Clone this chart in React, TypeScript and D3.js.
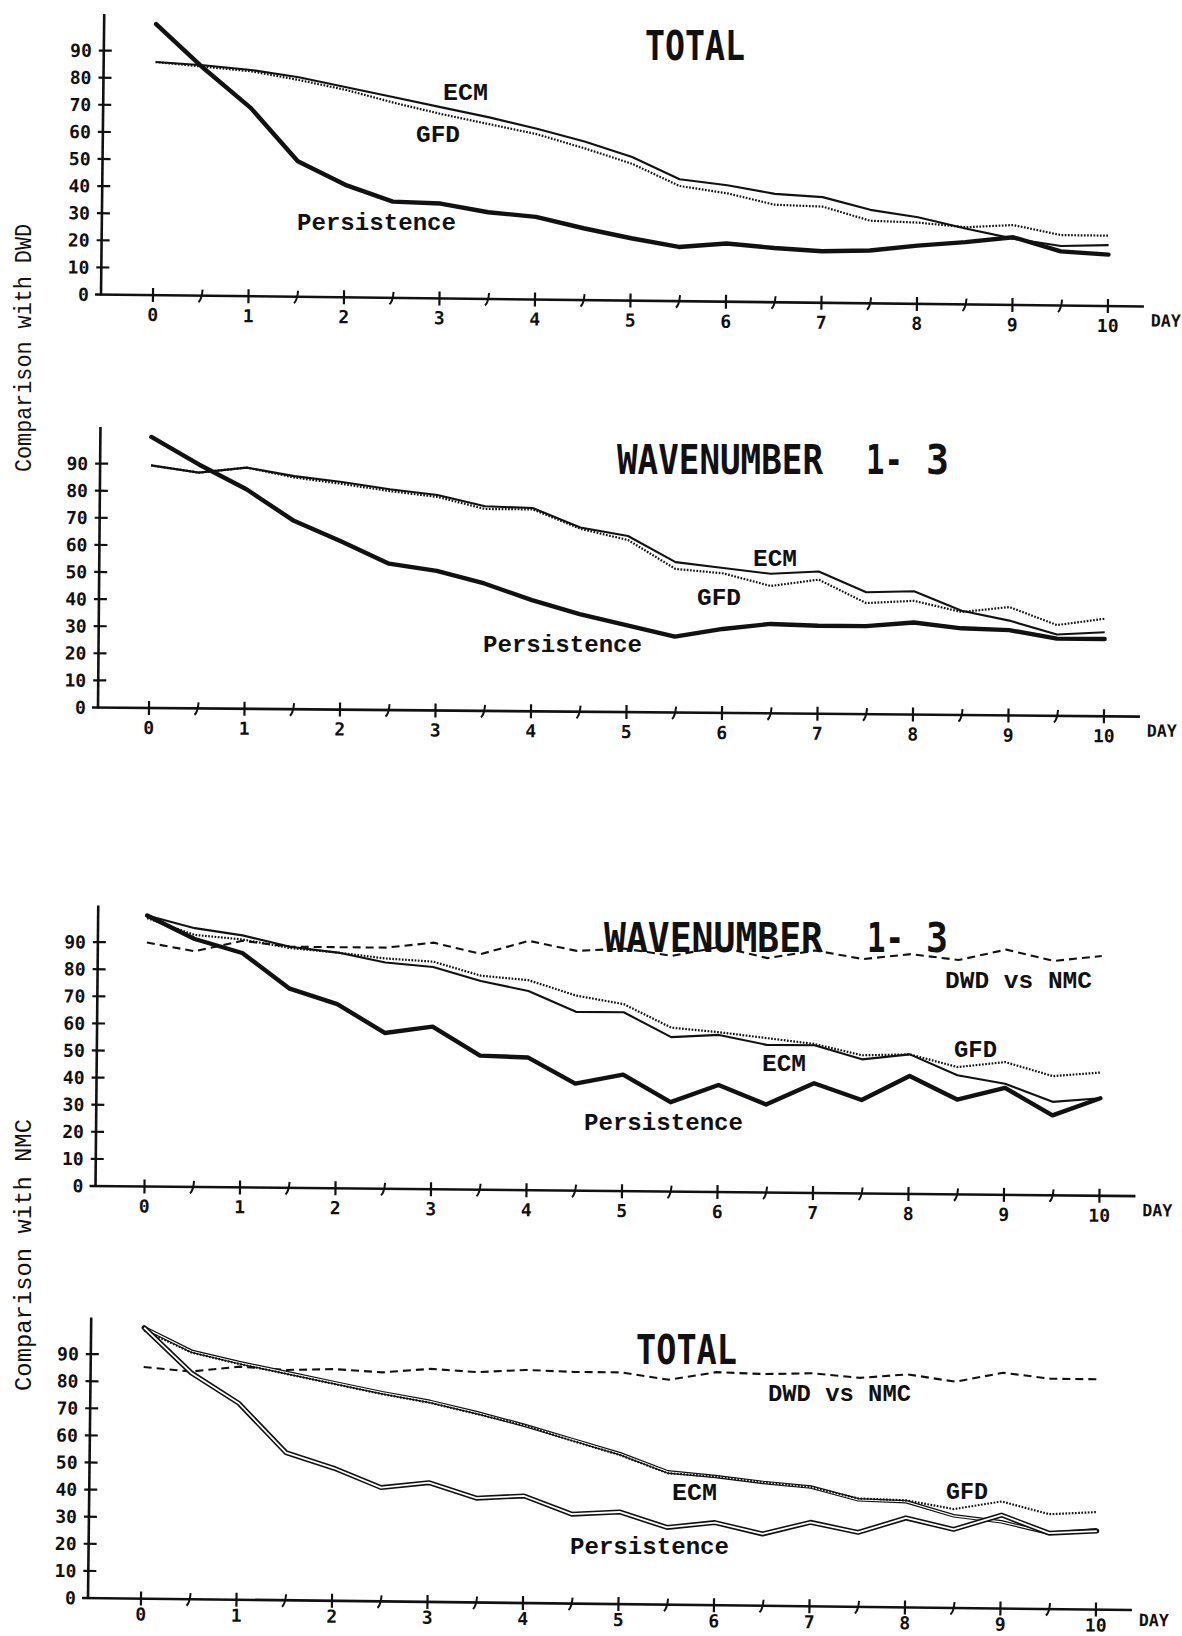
import React from 'react';
import * as d3 from 'd3';

// Forecast day at which every series is sampled (half-day steps)
const DAYS = [0, 0.5, 1, 1.5, 2, 2.5, 3, 3.5, 4, 4.5, 5, 5.5, 6, 6.5, 7, 7.5, 8, 8.5, 9, 9.5, 10];
const DAY_TICKS = [0, 1, 2, 3, 4, 5, 6, 7, 8, 9, 10];
const HALF_DAY_TICKS = [0.5, 1.5, 2.5, 3.5, 4.5, 5.5, 6.5, 7.5, 8.5, 9.5];
const VALUE_TICKS = [0, 10, 20, 30, 40, 50, 60, 70, 80, 90];

// Comparison with DWD, TOTAL
const dwdTotalEcm = [86, 85, 83.5, 81, 77.5, 74, 70.5, 67, 63, 58.5, 53, 45, 43, 40, 39, 34.5, 32, 28, 24.5, 22, 22.5];
const dwdTotalGfd = [86, 84.5, 83, 80, 76.5, 72, 68, 64.5, 61, 56, 50.5, 42.5, 40, 36, 35.5, 30.5, 30, 28.5, 29.5, 26, 26];
const dwdTotalPersistence = [100, 84, 69.5, 50, 41.5, 35.5, 35, 32, 30.5, 26.5, 23, 20, 21.5, 20, 19, 19.5, 21.5, 23, 25, 20, 19];

// Comparison with DWD, WAVENUMBER 1-3
const dwdWaveEcm = [89.5, 87, 89, 86, 84, 81.5, 79.5, 75.5, 75, 68, 65, 55.5, 53.5, 51.5, 52.5, 45, 45.5, 38.5, 35, 30, 31];
const dwdWaveGfd = [89.5, 87, 89, 85.5, 83.3, 80.8, 78.8, 74.5, 74.5, 67.5, 63.5, 53, 51.5, 47, 49.5, 41, 42, 38, 40, 33.5, 36];
const dwdWavePersistence = [100, 90, 81, 69.5, 62, 54, 51.5, 47, 41, 36, 32, 28, 31, 33, 32.5, 32.5, 34, 32, 31.5, 28.5, 28.5];

// Comparison with NMC, WAVENUMBER 1-3
const nmcWaveDwd = [90, 87, 91, 89, 89, 89, 91, 87, 92, 88.5, 89.5, 87, 90.5, 86.5, 89.5, 86.5, 88.5, 86.5, 90.5, 86.5, 88.5];
const nmcWaveEcm = [100, 95.5, 93, 89, 87, 83.5, 82, 77, 73.5, 66, 66, 57, 58, 54.5, 54.5, 49.5, 51.5, 44, 41, 34.5, 36];
const nmcWaveGfd = [99, 93, 91.5, 88.5, 87, 85, 84, 79, 77.5, 72, 69, 60.5, 59, 57, 55, 51, 51.5, 47, 49, 44, 45.5];
const nmcWavePersistence = [100, 91.5, 86.5, 73.5, 68, 57.5, 60, 49.5, 49, 39.5, 43, 33, 39.5, 32.5, 40.5, 34.5, 43.5, 35, 39.5, 29.5, 36];

// Comparison with NMC, TOTAL
const nmcTotalDwd = [85.5, 84, 86, 85, 85.5, 84.5, 86, 85, 86, 85.5, 85.5, 83, 86, 85.5, 86, 84.5, 86, 83.5, 87, 85, 85];
const nmcTotalEcm = [100, 91.5, 87.5, 84, 80.5, 77, 74, 70, 65.5, 60.5, 55.5, 49, 47.5, 45.5, 44, 39.5, 39, 34, 32, 28, 29.5];
const nmcTotalGfd = [99, 91, 87, 83.5, 80, 76.5, 73.5, 69.5, 65.5, 60, 55, 48.5, 47.5, 45.5, 44, 40, 39.5, 36.5, 39.5, 35, 36];
const nmcTotalPersistence = [100, 83.5, 72.5, 54.5, 49, 42, 44, 38.5, 39.5, 33, 34, 28.5, 30.5, 26.5, 31, 27.5, 33, 29, 34.5, 28, 29];

type Style = 'solid' | 'dotted' | 'thick' | 'dashed' | 'hollow' | 'hollowThick';
type Series = { values: number[]; style: Style };
type Label = { text: string; x: number; y: number; len: number };
type TitlePart = { text: string; x: number; len: number };
type PanelCfg = {
  ox: number; oy: number; angle: number; dayOffset: number; dayLabelY: number;
  titleY: number; title: TitlePart[];
  series: Series[]; labels: Label[];
};

const X_SPAN = 955; // ten days
const Y_SPAN = 271; // 100 units
const INK = '#111';

const PANELS: PanelCfg[] = [
  {
    ox: 101, oy: 294.5, angle: 0.66, dayOffset: 52, dayLabelY: 26,
    titleY: 60, title: [{ text: 'TOTAL', x: 645, len: 100 }],
    series: [
      { values: dwdTotalGfd, style: 'dotted' },
      { values: dwdTotalEcm, style: 'solid' },
      { values: dwdTotalPersistence, style: 'thick' },
    ],
    labels: [
      { text: 'ECM', x: 443, y: 100, len: 45 },
      { text: 'GFD', x: 416, y: 142, len: 44 },
      { text: 'Persistence', x: 297, y: 230, len: 159 },
    ],
  },
  {
    ox: 98, oy: 707.5, angle: 0.5, dayOffset: 51, dayLabelY: 26,
    titleY: 474,
    title: [
      { text: 'WAVENUMBER', x: 617, len: 206 },
      { text: '1-', x: 866, len: 37 },
      { text: '3', x: 926, len: 23 },
    ],
    series: [
      { values: dwdWaveGfd, style: 'dotted' },
      { values: dwdWaveEcm, style: 'solid' },
      { values: dwdWavePersistence, style: 'thick' },
    ],
    labels: [
      { text: 'ECM', x: 753, y: 566, len: 44 },
      { text: 'GFD', x: 697, y: 605, len: 44 },
      { text: 'Persistence', x: 483, y: 652, len: 159 },
    ],
  },
  {
    ox: 95.5, oy: 1186, angle: 0.56, dayOffset: 49, dayLabelY: 26,
    titleY: 952,
    title: [
      { text: 'WAVENUMBER', x: 604, len: 219 },
      { text: '1-', x: 867, len: 37 },
      { text: '3', x: 926, len: 22 },
    ],
    series: [
      { values: nmcWaveDwd, style: 'dashed' },
      { values: nmcWaveGfd, style: 'dotted' },
      { values: nmcWaveEcm, style: 'solid' },
      { values: nmcWavePersistence, style: 'thick' },
    ],
    labels: [
      { text: 'DWD vs NMC', x: 945, y: 988, len: 147 },
      { text: 'GFD', x: 954, y: 1057, len: 43 },
      { text: 'ECM', x: 762, y: 1071, len: 44 },
      { text: 'Persistence', x: 584, y: 1130, len: 159 },
    ],
  },
  {
    ox: 88, oy: 1598, angle: 0.66, dayOffset: 53, dayLabelY: 22,
    titleY: 1364, title: [{ text: 'TOTAL', x: 636, len: 101 }],
    series: [
      { values: nmcTotalDwd, style: 'dashed' },
      { values: nmcTotalEcm, style: 'hollow' },
      { values: nmcTotalGfd, style: 'dotted' },
      { values: nmcTotalPersistence, style: 'hollowThick' },
    ],
    labels: [
      { text: 'DWD vs NMC', x: 768, y: 1401, len: 143 },
      { text: 'ECM', x: 672, y: 1500, len: 45 },
      { text: 'GFD', x: 946, y: 1499, len: 42 },
      { text: 'Persistence', x: 570, y: 1554, len: 159 },
    ],
  },
];

const MONO = '"Liberation Mono", "DejaVu Sans Mono", monospace';
const PLOT = '"DejaVu Sans Mono", monospace';

function SeriesPath({ d, style }: { d: string; style: Style }) {
  switch (style) {
    case 'solid':
      return <path d={d} fill="none" stroke={INK} strokeWidth={2.1} strokeLinejoin="round" />;
    case 'dotted':
      return <path d={d} fill="none" stroke={INK} strokeWidth={2.2} strokeDasharray="1.7 1.5" />;
    case 'thick':
      return <path d={d} fill="none" stroke={INK} strokeWidth={4.4} strokeLinejoin="round" strokeLinecap="round" />;
    case 'dashed':
      return <path d={d} fill="none" stroke={INK} strokeWidth={2.1} strokeDasharray="8 5" />;
    case 'hollow':
      return (
        <g>
          <path d={d} fill="none" stroke={INK} strokeWidth={3.6} strokeLinejoin="round" />
          <path d={d} fill="none" stroke="#fff" strokeWidth={1.2} strokeLinejoin="round" />
        </g>
      );
    case 'hollowThick':
      return (
        <g>
          <path d={d} fill="none" stroke={INK} strokeWidth={5} strokeLinejoin="round" strokeLinecap="round" />
          <path d={d} fill="none" stroke="#fff" strokeWidth={1.8} strokeLinejoin="round" />
        </g>
      );
  }
}

function Panel({ cfg }: { cfg: PanelCfg }) {
  const x = d3.scaleLinear().domain([0, 10]).range([cfg.dayOffset, cfg.dayOffset + X_SPAN]);
  const y = d3.scaleLinear().domain([0, 100]).range([0, -Y_SPAN]);
  const line = d3
    .line<number>()
    .x((_, i) => x(DAYS[i]))
    .y((v) => y(v));
  const axisEnd = x(10) + 36;

  return (
    <g>
      <g transform={`translate(${cfg.ox},${cfg.oy}) rotate(${cfg.angle})`}>
        {/* axes */}
        <line x1={-6} y1={0} x2={axisEnd} y2={0} stroke={INK} strokeWidth={2.6} />
        <line x1={0} y1={1} x2={0} y2={y(103.5)} stroke={INK} strokeWidth={2.6} />
        {VALUE_TICKS.filter((v) => v > 0).map((v) => (
          <line key={'yt' + v} x1={-5} x2={8} y1={y(v)} y2={y(v)} stroke={INK} strokeWidth={2.2} />
        ))}
        {VALUE_TICKS.map((v) => (
          <text
            key={'yl' + v}
            x={-12}
            y={y(v)}
            dy="0.36em"
            textAnchor="end"
            fontFamily={PLOT}
            fontWeight="bold"
            fontSize={18}
            fill={INK}
          >
            {v}
          </text>
        ))}
        {DAY_TICKS.map((d) => (
          <line key={'xt' + d} x1={x(d)} x2={x(d)} y1={-7} y2={7} stroke={INK} strokeWidth={2.2} />
        ))}
        {HALF_DAY_TICKS.map((d) => (
          <path
            key={'xh' + d}
            d={`M${x(d) + 1.8},-6 Q${x(d) + 1},4 ${x(d) - 2.2},6.5`}
            fill="none"
            stroke={INK}
            strokeWidth={2}
          />
        ))}
        {DAY_TICKS.map((d) => (
          <text
            key={'xl' + d}
            x={x(d)}
            y={cfg.dayLabelY}
            textAnchor="middle"
            fontFamily={PLOT}
            fontWeight="bold"
            fontSize={18}
            fill={INK}
          >
            {d}
          </text>
        ))}
        <text
          x={x(10) + 43}
          y={cfg.dayLabelY - 6}
          fontFamily={PLOT}
          fontWeight="bold"
          fontSize={17}
          textLength={30}
          lengthAdjust="spacingAndGlyphs"
          fill={INK}
        >
          DAY
        </text>
        {/* curves */}
        {cfg.series.map((s, i) => (
          <SeriesPath key={'s' + i} d={line(s.values) || ''} style={s.style} />
        ))}
      </g>
      {/* panel title */}
      {cfg.title.map((t, i) => (
        <text
          key={'t' + i}
          x={t.x}
          y={cfg.titleY}
          fontFamily={PLOT}
          fontWeight="bold"
          fontSize={41}
          textLength={t.len}
          lengthAdjust="spacingAndGlyphs"
          fill={INK}
        >
          {t.text}
        </text>
      ))}
      {/* curve names */}
      {cfg.labels.map((l, i) => (
        <text
          key={'l' + i}
          x={l.x}
          y={l.y}
          fontFamily={MONO}
          fontWeight="bold"
          fontSize={24}
          textLength={l.len}
          lengthAdjust="spacingAndGlyphs"
          fill={INK}
        >
          {l.text}
        </text>
      ))}
    </g>
  );
}

export default function App() {
  return (
    <div style={{ position: 'absolute', left: 0, top: 0, background: '#fff' }}>
      <svg width={1182} height={1636} viewBox="0 0 1182 1636" style={{ display: 'block', background: '#fff' }}>
        <rect width={1182} height={1636} fill="#fff" />
        {PANELS.map((p, i) => (
          <Panel key={i} cfg={p} />
        ))}
        <text
          transform="translate(31,348) rotate(-90)"
          textAnchor="middle"
          fontFamily={MONO}
          fontSize={23}
          textLength={248}
          lengthAdjust="spacingAndGlyphs"
          fill={INK}
        >
          Comparison with DWD
        </text>
        <text
          transform="translate(31,1255) rotate(-90)"
          textAnchor="middle"
          fontFamily={MONO}
          fontSize={23}
          textLength={272}
          lengthAdjust="spacingAndGlyphs"
          fill={INK}
        >
          Comparison with NMC
        </text>
      </svg>
    </div>
  );
}
